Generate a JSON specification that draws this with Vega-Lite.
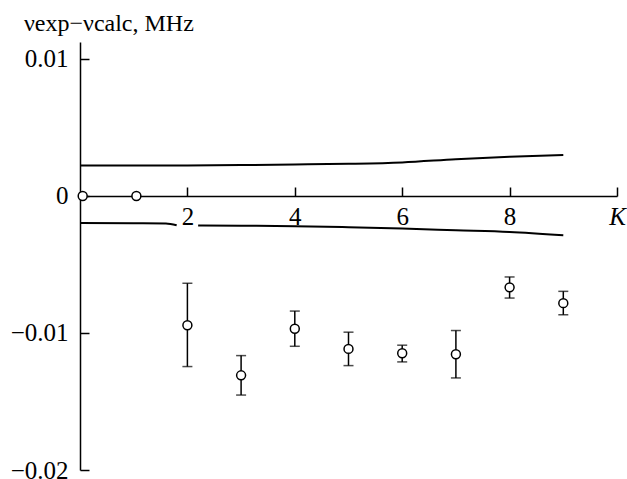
{
  "$schema": "https://vega.github.io/schema/vega-lite/v6.json",
  "width": 537,
  "height": 428,
  "autosize": {"type": "none"},
  "padding": {"left": 80, "top": 42, "right": 10, "bottom": 9},
  "background": "white",
  "config": {
    "view": {"stroke": null},
    "font": "Liberation Serif",
    "axis": {
      "grid": false,
      "domainColor": "black",
      "domainWidth": 1.5,
      "tickColor": "black",
      "tickWidth": 1.5,
      "labelColor": "black",
      "labelFont": "Liberation Serif",
      "labelFontSize": 25
    }
  },
  "title": {
    "text": "νexp−νcalc, MHz",
    "anchor": "start",
    "frame": "group",
    "dx": -56,
    "offset": 6,
    "font": "Liberation Serif",
    "fontSize": 24,
    "fontWeight": "normal",
    "color": "black"
  },
  "datasets": {
    "pts": [
      {"K": 0.05, "v": 0},
      {"K": 1.05, "v": 0},
      {"K": 2, "v": -0.00943, "lo": -0.01245, "hi": -0.00637},
      {"K": 3, "v": -0.01309, "lo": -0.01453, "hi": -0.01165},
      {"K": 4, "v": -0.00969, "lo": -0.01097, "hi": -0.0084},
      {"K": 5, "v": -0.01116, "lo": -0.01238, "hi": -0.00994},
      {"K": 6, "v": -0.01148, "lo": -0.01211, "hi": -0.01089},
      {"K": 7, "v": -0.01155, "lo": -0.01328, "hi": -0.00982},
      {"K": 8, "v": -0.00667, "lo": -0.00745, "hi": -0.00591},
      {"K": 9, "v": -0.00782, "lo": -0.00867, "hi": -0.00696}
    ],
    "curves": [
      {"K": 0, "v": 0.00222, "seg": "upper"},
      {"K": 1, "v": 0.00222, "seg": "upper"},
      {"K": 2, "v": 0.00223, "seg": "upper"},
      {"K": 3, "v": 0.00226, "seg": "upper"},
      {"K": 4, "v": 0.0023, "seg": "upper"},
      {"K": 5, "v": 0.00235, "seg": "upper"},
      {"K": 6, "v": 0.00245, "seg": "upper"},
      {"K": 7, "v": 0.00268, "seg": "upper"},
      {"K": 8, "v": 0.00287, "seg": "upper"},
      {"K": 9, "v": 0.003, "seg": "upper"},
      {"K": 0, "v": -0.00198, "seg": "lowerA"},
      {"K": 1, "v": -0.00199, "seg": "lowerA"},
      {"K": 1.6, "v": -0.002, "seg": "lowerA"},
      {"K": 1.8, "v": -0.00214, "seg": "lowerA"},
      {"K": 2.2, "v": -0.00215, "seg": "lowerB"},
      {"K": 3, "v": -0.00217, "seg": "lowerB"},
      {"K": 4, "v": -0.0022, "seg": "lowerB"},
      {"K": 5, "v": -0.00228, "seg": "lowerB"},
      {"K": 6, "v": -0.00238, "seg": "lowerB"},
      {"K": 7, "v": -0.0025, "seg": "lowerB"},
      {"K": 8, "v": -0.00262, "seg": "lowerB"},
      {"K": 9, "v": -0.00286, "seg": "lowerB"}
    ]
  },
  "layer": [
    {
      "data": {"name": "curves"},
      "mark": {"type": "line", "color": "black", "strokeWidth": 2, "interpolate": "monotone"},
      "encoding": {
        "x": {
          "field": "K", "type": "quantitative",
          "scale": {"domain": [0, 10], "nice": false, "zero": false},
          "axis": {
            "title": null,
            "orient": "bottom",
            "offset": -274,
            "values": [2, 4, 6, 8, 10],
            "tickSize": -9,
            "labelPadding": 17,
            "labelExpr": "datum.value == 10 ? 'K' : datum.label",
            "labelFontStyle": {"condition": {"test": "datum.value == 10", "value": "italic"}, "value": "normal"},
            "labelFlush": false,
            "labelOverlap": false
          }
        },
        "y": {
          "field": "v", "type": "quantitative",
          "scale": {"domain": [-0.02, 0.01124], "nice": false, "zero": false},
          "axis": {
            "title": null,
            "values": [0.01, 0, -0.01, -0.02],
            "tickSize": -9,
            "labelPadding": 21,
            "labelExpr": "datum.value == 0 ? '0' : replace(format(datum.value, '.2f'), '-', '−')",
            "labelFlush": false,
            "labelOverlap": false
          }
        },
        "detail": {"field": "seg"}
      }
    },
    {
      "data": {"name": "pts"},
      "transform": [{"filter": "isValid(datum.lo)"}],
      "mark": {"type": "rule", "color": "black", "strokeWidth": 1.5},
      "encoding": {
        "x": {"field": "K", "type": "quantitative"},
        "y": {"field": "lo", "type": "quantitative"},
        "y2": {"field": "hi"}
      }
    },
    {
      "data": {"name": "pts"},
      "transform": [{"filter": "isValid(datum.lo)"}],
      "mark": {"type": "tick", "orient": "horizontal", "color": "black", "size": 10, "thickness": 1.5},
      "encoding": {
        "x": {"field": "K", "type": "quantitative"},
        "y": {"field": "lo", "type": "quantitative"}
      }
    },
    {
      "data": {"name": "pts"},
      "transform": [{"filter": "isValid(datum.hi)"}],
      "mark": {"type": "tick", "orient": "horizontal", "color": "black", "size": 10, "thickness": 1.5},
      "encoding": {
        "x": {"field": "K", "type": "quantitative"},
        "y": {"field": "hi", "type": "quantitative"}
      }
    },
    {
      "data": {"name": "pts"},
      "mark": {"type": "point", "shape": "circle", "filled": true, "fill": "white", "stroke": "black", "strokeWidth": 1.5, "size": 80, "opacity": 1},
      "encoding": {
        "x": {"field": "K", "type": "quantitative"},
        "y": {"field": "v", "type": "quantitative"}
      }
    }
  ]
}
